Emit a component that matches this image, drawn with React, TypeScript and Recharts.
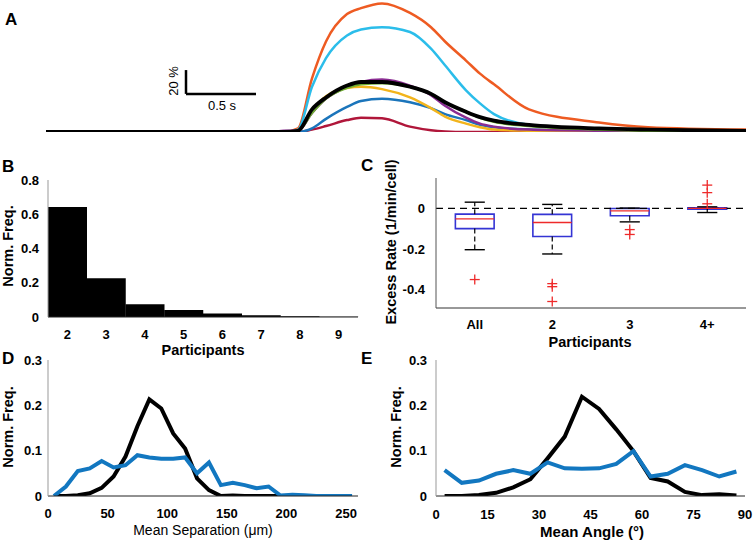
import React from 'react';
import {
  LineChart, Line, XAxis, YAxis, BarChart, Bar, ScatterChart, Scatter,
  ReferenceLine, ReferenceArea,
} from 'recharts';

const FONT = '"Liberation Sans", Arial, Helvetica, sans-serif';

// A: mean transients (% change) over time (s)
const TIME = [0, 1.6, 1.7, 1.8, 1.9, 2.0, 2.15, 2.25, 2.4, 2.6, 2.75, 2.85, 3.0, 3.1, 3.2, 3.45, 3.95, 4.3, 5.0];
const ORANGE = [0, 0, 0, 3, 45, 76, 99, 104, 108, 100, 88, 76, 60, 49, 40, 19, 8, 4, 2];
const CYAN = [0, 0, 0, 2, 38, 62, 81, 86, 88, 84, 70, 56, 35, 24, 15, 6, 2, 1, 0.5];
const PURPLE = [0, 0, 1, 1, 16, 28, 38, 42, 44, 39, 31, 22, 12, 7, 4.5, 2, 1, 0.5, 0];
const GREEN = [0, 0, 0, 1, 16, 28, 37, 40, 41, 38, 32, 25, 17, 12, 8.5, 5, 2, 1, 0.5];
const YELLOW = [0, 0, 0, 1, 18, 30, 37, 38, 36, 29, 20, 13, 7, 4, 2, 1, 0, 0, 0];
const BLUE = [0, 0, 0, 0, 3, 11, 21, 26, 28, 25, 20, 15, 10, 6, 4, 2, 1, 0.5, 0];
const RED = [0, 0, 0, 0, 2, 5, 10, 12, 11.5, 4.5, 1.5, 0.5, 0, 0, 0, 0, 0, 0, 0];
const BLACK = [0, 0, 0, 1, 19, 29, 39, 42, 42, 38, 32, 25, 17, 12.5, 9.5, 6, 3, 2, 1];

// B: participants histogram
const PARTICIPANTS = ['2', '3', '4', '5', '6', '7', '8', '9'];
const PART_FREQ = [0.643, 0.227, 0.074, 0.041, 0.02, 0.01, 0.004, 0.001];

// C: excess rate box plots
const GROUPS = ['All', '2', '3', '4+'];
const W_HIGH = [0.031, 0.02, 0.002, 0.008];
const Q3 = [-0.028, -0.029, 0.0, 0.003];
const MEDIAN = [-0.051, -0.069, -0.012, 0.0];
const Q1 = [-0.099, -0.138, -0.036, -0.003];
const W_LOW = [-0.203, -0.224, -0.066, -0.02];
const OUTLIERS = [[-0.35], [-0.37, -0.385, -0.458], [-0.104, -0.128], [0.115, 0.078, 0.023]];

// D: mean separation (um)
const SEP_BINS = [5, 15, 25, 35, 45, 55, 65, 75, 85, 95, 105, 115, 125, 135, 145, 155, 165, 175, 185, 195, 205, 215, 225, 235, 245, 255];
const SEP_BLACK = [0, 0, 0.0015, 0.006, 0.018, 0.043, 0.087, 0.154, 0.213, 0.193, 0.138, 0.105, 0.039, 0.013, 0, 0.001, 0, 0, 0, 0, 0, 0, 0, 0, 0, 0];
const SEP_BLUE = [0, 0.021, 0.055, 0.061, 0.077, 0.063, 0.068, 0.09, 0.085, 0.082, 0.082, 0.085, 0.05, 0.074, 0.024, 0.029, 0.024, 0.017, 0.021, 0.001, 0.003, 0.0015, 0, 0, 0, 0];

// E: mean angle (deg)
const ANGLE_BINS = [2.5, 7.5, 12.5, 17.5, 22.5, 27.5, 32.5, 37.5, 42.5, 47.5, 52.5, 57.5, 62.5, 67.5, 72.5, 77.5, 82.5, 87.5];
const ANGLE_BLACK = [0, 0, 0.002, 0.007, 0.019, 0.037, 0.083, 0.131, 0.219, 0.192, 0.147, 0.099, 0.04, 0.032, 0.009, 0.002, 0.004, 0.001];
const ANGLE_BLUE = [0.057, 0.029, 0.034, 0.049, 0.057, 0.049, 0.074, 0.061, 0.06, 0.061, 0.071, 0.099, 0.043, 0.049, 0.068, 0.057, 0.043, 0.054];

const TRACES = [
  { key: 'orange', color: '#ee5b22', width: 2.5 },
  { key: 'cyan', color: '#2bbdea', width: 2.5 },
  { key: 'red', color: '#b0163a', width: 2.5 },
  { key: 'blue', color: '#1b75bb', width: 2.5 },
  { key: 'yellow', color: '#f2b41c', width: 2.5 },
  { key: 'purple', color: '#8a2c92', width: 2.5 },
  { key: 'green', color: '#6fae33', width: 2.5 },
  { key: 'black', color: '#000000', width: 3.8 },
];

const traceData = TIME.map((t, i) => ({
  t,
  orange: ORANGE[i], cyan: CYAN[i], purple: PURPLE[i], green: GREEN[i],
  yellow: YELLOW[i], blue: BLUE[i], red: RED[i], black: BLACK[i],
}));
const partData = PARTICIPANTS.map((p, i) => ({ p, freq: PART_FREQ[i] }));
const outlierData = GROUPS.flatMap((_, i) => OUTLIERS[i].map((y) => ({ x: i + 1, y })));
const sepData = SEP_BINS.map((x, i) => ({ x, black: SEP_BLACK[i], blue: SEP_BLUE[i] }));
const angleData = ANGLE_BINS.map((x, i) => ({ x, black: ANGLE_BLACK[i], blue: ANGLE_BLUE[i] }));

const tick = { fill: '#000', fontSize: 13, fontWeight: 700, fontFamily: FONT };
const LINE_BLUE = '#1277c0';
const BOX_BLUE = '#3434d4';
const MED_RED = '#ee2a2a';

const Plus = (props: any) => {
  const { cx, cy } = props;
  return (
    <g>
      <line x1={cx - 5} x2={cx + 5} y1={cy} y2={cy} stroke={MED_RED} strokeWidth={1.3} />
      <line x1={cx} x2={cx} y1={cy - 5} y2={cy + 5} stroke={MED_RED} strokeWidth={1.3} />
    </g>
  );
};

const boxElements = GROUPS.flatMap((g, i) => {
  const x = i + 1;
  return [
    <ReferenceLine key={`wu-${g}`} segment={[{ x, y: Q3[i] }, { x, y: W_HIGH[i] }]} stroke="#000" strokeWidth={1.2} strokeDasharray="5 3" />,
    <ReferenceLine key={`wl-${g}`} segment={[{ x, y: Q1[i] }, { x, y: W_LOW[i] }]} stroke="#000" strokeWidth={1.2} strokeDasharray="5 3" />,
    <ReferenceLine key={`cu-${g}`} segment={[{ x: x - 0.13, y: W_HIGH[i] }, { x: x + 0.13, y: W_HIGH[i] }]} stroke="#000" strokeWidth={1.4} />,
    <ReferenceLine key={`cl-${g}`} segment={[{ x: x - 0.13, y: W_LOW[i] }, { x: x + 0.13, y: W_LOW[i] }]} stroke="#000" strokeWidth={1.4} />,
    <ReferenceArea key={`b-${g}`} x1={x - 0.25} x2={x + 0.25} y1={Q1[i]} y2={Q3[i]} fill="#fff" fillOpacity={1} stroke={BOX_BLUE} strokeWidth={1.6} />,
    <ReferenceLine key={`m-${g}`} segment={[{ x: x - 0.25, y: MEDIAN[i] }, { x: x + 0.25, y: MEDIAN[i] }]} stroke={MED_RED} strokeWidth={1.3} />,
  ];
});

const abs = (left: number, top: number): React.CSSProperties => ({ position: 'absolute', left, top });

export default function App() {
  return (
    <div style={{ position: 'absolute', left: 0, top: 0, width: 753, height: 544, background: '#fff', fontFamily: FONT, overflow: 'hidden' }}>
      {/* A */}
      <div style={abs(0, 0)}>
        <LineChart width={753} height={145} data={traceData} margin={{ top: 1, right: 7, bottom: 13, left: 46 }}>
          <XAxis dataKey="t" type="number" domain={[0, 5]} hide />
          <YAxis domain={[0, 110]} hide allowDataOverflow />
          {TRACES.map((s) => (
            <Line key={s.key} dataKey={s.key} type="monotone" stroke={s.color} strokeWidth={s.width}
              dot={false} isAnimationActive={false} strokeLinejoin="round" />
          ))}
          <ReferenceLine segment={[{ x: 1.0, y: 32 }, { x: 1.0, y: 52 }]} stroke="#000" strokeWidth={2.5} />
          <ReferenceLine segment={[{ x: 1.0, y: 32 }, { x: 1.5, y: 32 }]} stroke="#000" strokeWidth={2.5} />
        </LineChart>
      </div>

      {/* B */}
      <div style={abs(0, 150)}>
        <BarChart width={370} height={210} data={partData} barCategoryGap={0} barGap={0}
          margin={{ top: 30, right: 12, bottom: 0, left: 0 }}>
          <XAxis dataKey="p" interval={0} height={43} tick={tick} tickLine={false} tickSize={3} tickMargin={10} stroke="#222" />
          <YAxis domain={[0, 0.8]} ticks={[0, 0.2, 0.4, 0.6, 0.8]} width={48} tick={tick} tickLine={false}
            tickSize={3} tickMargin={6} stroke="#999" allowDataOverflow />
          <Bar dataKey="freq" fill="#000" isAnimationActive={false} />
        </BarChart>
      </div>

      {/* C */}
      <div style={abs(370, 150)}>
        <ScatterChart width={383} height={210} margin={{ top: 28, right: 7, bottom: 0, left: 0 }}>
          <XAxis dataKey="x" type="number" domain={[0.5, 4.5]} ticks={[1, 2, 3, 4]} allowDataOverflow
            tickFormatter={(v: number) => GROUPS[v - 1]} height={52} tick={tick} tickLine={false}
            tickSize={3} tickMargin={9} stroke="#333" />
          <YAxis dataKey="y" type="number" domain={[-0.49, 0.15]} ticks={[-0.4, -0.2, 0]} allowDataOverflow
            width={66} tick={tick} tickLine={false} tickSize={3} tickMargin={8} stroke="#555" />
          <ReferenceLine y={0} stroke="#000" strokeWidth={1.2} strokeDasharray="7 5" />
          {boxElements}
          <Scatter data={outlierData} shape={<Plus />} isAnimationActive={false} />
        </ScatterChart>
      </div>

      {/* D */}
      <div style={abs(0, 340)}>
        <LineChart width={370} height={204} data={sepData} margin={{ top: 20, right: 12, bottom: 0, left: 0 }}>
          <XAxis dataKey="x" type="number" domain={[0, 260]} ticks={[0, 50, 100, 150, 200, 250]} allowDataOverflow
            height={48} tick={tick} tickLine={false} tickSize={3} tickMargin={10} stroke="#222" />
          <YAxis domain={[0, 0.3]} ticks={[0, 0.1, 0.2, 0.3]} width={48} tick={tick} tickLine={false}
            tickSize={2} tickMargin={4} stroke="#999" allowDataOverflow />
          <Line dataKey="black" type="linear" stroke="#000" strokeWidth={4} dot={false} isAnimationActive={false} />
          <Line dataKey="blue" type="linear" stroke={LINE_BLUE} strokeWidth={4} dot={false} isAnimationActive={false} />
        </LineChart>
      </div>

      {/* E */}
      <div style={abs(370, 340)}>
        <LineChart width={383} height={204} data={angleData} margin={{ top: 20, right: 8, bottom: 0, left: 0 }}>
          <XAxis dataKey="x" type="number" domain={[0, 90]} ticks={[0, 15, 30, 45, 60, 75, 90]} allowDataOverflow
            height={48} tick={tick} tickLine={false} tickSize={3} tickMargin={11} stroke="#222" />
          <YAxis domain={[0, 0.3]} ticks={[0, 0.1, 0.2, 0.3]} width={66} tick={tick} tickLine={false}
            tickSize={3} tickMargin={6} stroke="#999" allowDataOverflow />
          <Line dataKey="black" type="linear" stroke="#000" strokeWidth={4} dot={false} isAnimationActive={false} />
          <Line dataKey="blue" type="linear" stroke={LINE_BLUE} strokeWidth={4} dot={false} isAnimationActive={false} />
        </LineChart>
      </div>

      {/* panel letters and axis titles */}
      <svg width={753} height={544} style={{ position: 'absolute', left: 0, top: 0, pointerEvents: 'none' }}
        fontFamily={FONT} fill="#000">
        <text x={5} y={25} fontSize={17} fontWeight={700}>A</text>
        <text transform="translate(178,81) rotate(-90)" textAnchor="middle" fontSize={13}>20 %</text>
        <text x={222} y={110} textAnchor="middle" fontSize={13}>0.5 s</text>

        <text x={2} y={172} fontSize={17} fontWeight={700}>B</text>
        <text transform="translate(13,246) rotate(-90)" textAnchor="middle" fontSize={14.5} fontWeight={700}>Norm. Freq.</text>
        <text x={203} y={355} textAnchor="middle" fontSize={14.5} fontWeight={700}>Participants</text>

        <text x={361} y={171} fontSize={17} fontWeight={700}>C</text>
        <text transform="translate(396,242) rotate(-90)" textAnchor="middle" fontSize={14.5} fontWeight={700}>Excess Rate (1/min/cell)</text>
        <text x={590} y={347} textAnchor="middle" fontSize={14.5} fontWeight={700}>Participants</text>

        <text x={2} y={364} fontSize={17} fontWeight={700}>D</text>
        <text transform="translate(13,427) rotate(-90)" textAnchor="middle" fontSize={14.5} fontWeight={700}>Norm. Freq.</text>
        <text x={203} y={535} textAnchor="middle" fontSize={14}>Mean Separation (μm)</text>

        <text x={361} y={364} fontSize={17} fontWeight={700}>E</text>
        <text transform="translate(401,427) rotate(-90)" textAnchor="middle" fontSize={14.5} fontWeight={700}>Norm. Freq.</text>
        <text x={592} y={537} textAnchor="middle" fontSize={15} fontWeight={700}>Mean Angle (°)</text>
      </svg>
    </div>
  );
}
